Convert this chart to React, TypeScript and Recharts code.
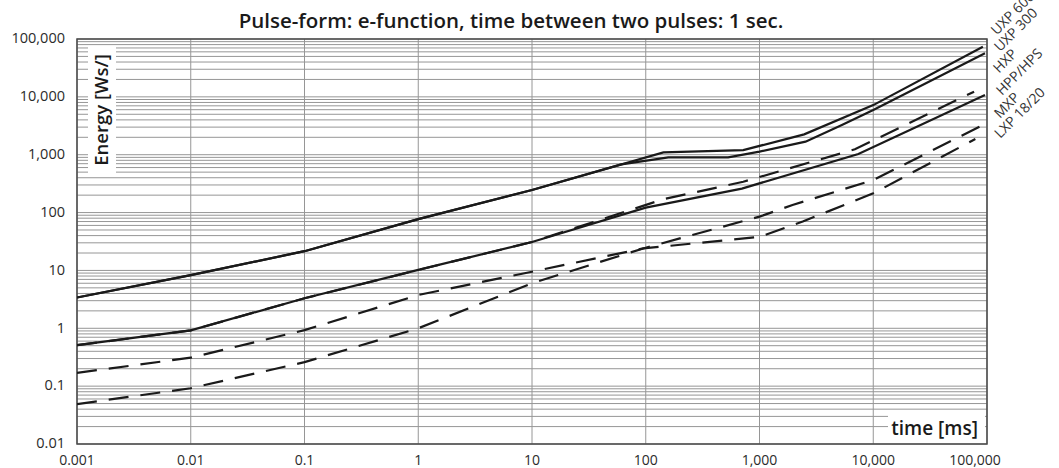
import React from "react";
import { LineChart, Line, XAxis, YAxis, CartesianGrid, ReferenceArea } from "recharts";

document.body.style.margin = "0";

const FONT = "'Open Sans', 'Noto Sans', sans-serif";
const TITLE = "Pulse-form: e-function, time between two pulses: 1 sec.";

const X_TICKS = [0.001, 0.01, 0.1, 1, 10, 100, 1000, 10000, 100000];
const X_LABELS = ["0.001", "0.01", "0.1", "1", "10", "100", "1,000", "10,000", "100,000"];
const Y_MAJOR = [0.01, 0.1, 1, 10, 100, 1000, 10000, 100000];
const Y_LABELS = ["0.01", "0.1", "1", "10", "100", "1,000", "10,000", "100,000"];
const Y_MINOR_STEPS = [2, 3, 4, 5, 6, 7, 8, 9];

// [time ms, energy Ws]
const uxp600 = [[0.001, 3.4], [0.01, 8.3], [0.1, 21.5], [1, 77], [10, 245], [143, 1100], [720, 1200], [2470, 2250], [10000, 7200], [92000, 73600]];
const uxp300 = [[0.001, 3.4], [0.01, 8.3], [0.1, 21.5], [1, 77], [10, 245], [61, 680], [158, 900], [530, 900], [1000, 1130], [2540, 1680], [5300, 3260], [10000, 5930], [96000, 56500]];
const hxp = [[0.001, 0.51], [0.01, 0.92], [0.1, 3.3], [1, 10.2], [10, 31], [143, 170], [720, 341], [6900, 1240], [77000, 12300]];
const hppHps = [[0.001, 0.51], [0.01, 0.92], [0.1, 3.3], [1, 10.2], [10, 31], [100, 122], [700, 260], [7400, 1030], [96000, 10800]];
const mxp = [[0.001, 0.049], [0.01, 0.092], [0.1, 0.26], [1, 1.0], [10, 6.0], [95, 24], [1000, 85], [1950, 135], [10000, 365], [96000, 3400]];
const lxp1820 = [[0.001, 0.17], [0.01, 0.31], [0.1, 0.93], [1, 3.76], [10, 9.5], [95, 24], [1000, 38], [2400, 70], [10000, 215], [79000, 1870]];

const SERIES = [
  { name: "UXP 600", pts: uxp600, dashed: false, dx: 14, dy: -11 },
  { name: "UXP 300", pts: uxp300, dashed: false, dx: 15, dy: -1 },
  { name: "HXP", pts: hxp, dashed: true, dx: 25, dy: -18 },
  { name: "HPP/HPS", pts: hppHps, dashed: false, dx: 17, dy: 1 },
  { name: "MXP", pts: mxp, dashed: true, dx: 15, dy: -5 },
  { name: "LXP 18/20", pts: lxp1820, dashed: true, dx: 25, dy: 0 },
];

const Y_TICKS: number[] = [];
Y_MAJOR.forEach((m, i) => {
  Y_TICKS.push(m);
  if (i < Y_MAJOR.length - 1) Y_MINOR_STEPS.forEach((s) => Y_TICKS.push(+(m * s).toPrecision(3)));
});

const XTick = (props: any) => {
  const { x, y, payload } = props;
  const i = X_TICKS.indexOf(payload.value);
  const shift = payload.value === 100000 ? -12 : 0;
  return (
    <text x={x + shift} y={y} dy="0.71em" textAnchor="middle" fontSize={14} fontFamily={FONT} fill="#2b2b2b">
      {X_LABELS[i]}
    </text>
  );
};

const YTick = (props: any) => {
  const { x, y, payload } = props;
  const i = Y_MAJOR.indexOf(payload.value);
  if (i < 0) return null;
  return (
    <text x={x} y={y} dy="0.3em" textAnchor="end" fontSize={14.5} fontFamily={FONT} fill="#2b2b2b">
      {Y_LABELS[i]}
    </text>
  );
};

const EnergyLabel = (props: any) => {
  const vb = props.viewBox;
  const cx = vb.x + vb.width + 25;
  const cy = vb.y + 71;
  return (
    <g>
      <rect x={cx - 14} y={cy - 63} width={28} height={126} fill="#fff" />
      <text x={cx} y={cy} transform={`rotate(-90 ${cx} ${cy})`} textAnchor="middle" dy="0.35em" fontSize={18.5} fontWeight={600} fontFamily={FONT} fill="#1a1a1a">
        Energy [Ws/]
      </text>
    </g>
  );
};

const TimeLabel = (props: any) => {
  const vb = props.viewBox;
  const right = vb.x + vb.width;
  const cy = vb.y - 16;
  return (
    <g>
      <rect x={right - 99} y={cy - 13} width={97} height={27} fill="#fff" />
      <text x={right - 9} y={cy} textAnchor="end" dy="0.35em" fontSize={19} fontWeight={600} fontFamily={FONT} fill="#1a1a1a">
        time [ms]
      </text>
    </g>
  );
};

const endLabel = (name: string, count: number, dx: number, dy: number) => (p: any) => {
  if (p.index !== count - 1) return null;
  const x = p.x + dx;
  const y = p.y + dy;
  return (
    <text key={name} x={x} y={y} transform={`rotate(-45 ${x} ${y})`} fontSize={14} fontFamily={FONT} fill="#333">
      {name}
    </text>
  );
};

export default function App() {
  return (
    <div style={{ position: "relative", width: 1059, height: 468, background: "#fff" }}>
      <div
        style={{
          position: "absolute",
          left: 0,
          top: 8,
          width: 1022,
          textAlign: "center",
          fontFamily: FONT,
          fontWeight: 600,
          fontSize: 20.5,
          lineHeight: "24px",
          color: "#1a1a1a",
        }}
      >
        {TITLE}
      </div>
      <LineChart width={1059} height={468} margin={{ top: 39, right: 72, left: 0, bottom: 0 }}>
        <CartesianGrid stroke="#969696" strokeWidth={1} />
        <XAxis
          dataKey="t"
          type="number"
          scale="log"
          domain={[0.001, 100000]}
          allowDataOverflow
          ticks={X_TICKS}
          interval={0}
          height={24}
          axisLine={false}
          tickLine={false}
          tickSize={0}
          tickMargin={11}
          tick={<XTick />}
          label={(p: any) => <TimeLabel {...p} />}
        />
        <YAxis
          type="number"
          scale="log"
          domain={[0.01, 100000]}
          allowDataOverflow
          ticks={Y_TICKS}
          interval={0}
          width={77}
          axisLine={false}
          tickLine={false}
          tickSize={0}
          tickMargin={12}
          tick={<YTick />}
          label={(p: any) => <EnergyLabel {...p} />}
        />
        <ReferenceArea x1={0.001} x2={100000} y1={0.01} y2={100000} fill="none" stroke="#4a4a4a" strokeWidth={1.5} />
        {SERIES.map((s) => (
          <Line
            key={s.name}
            data={s.pts.map(([t, e]) => ({ t, e }))}
            dataKey="e"
            type="linear"
            stroke="#1a1a1a"
            strokeWidth={2.2}
            strokeDasharray={s.dashed ? "20 12" : undefined}
            dot={false}
            activeDot={false}
            isAnimationActive={false}
            label={endLabel(s.name, s.pts.length, s.dx, s.dy)}
          />
        ))}
      </LineChart>
    </div>
  );
}
